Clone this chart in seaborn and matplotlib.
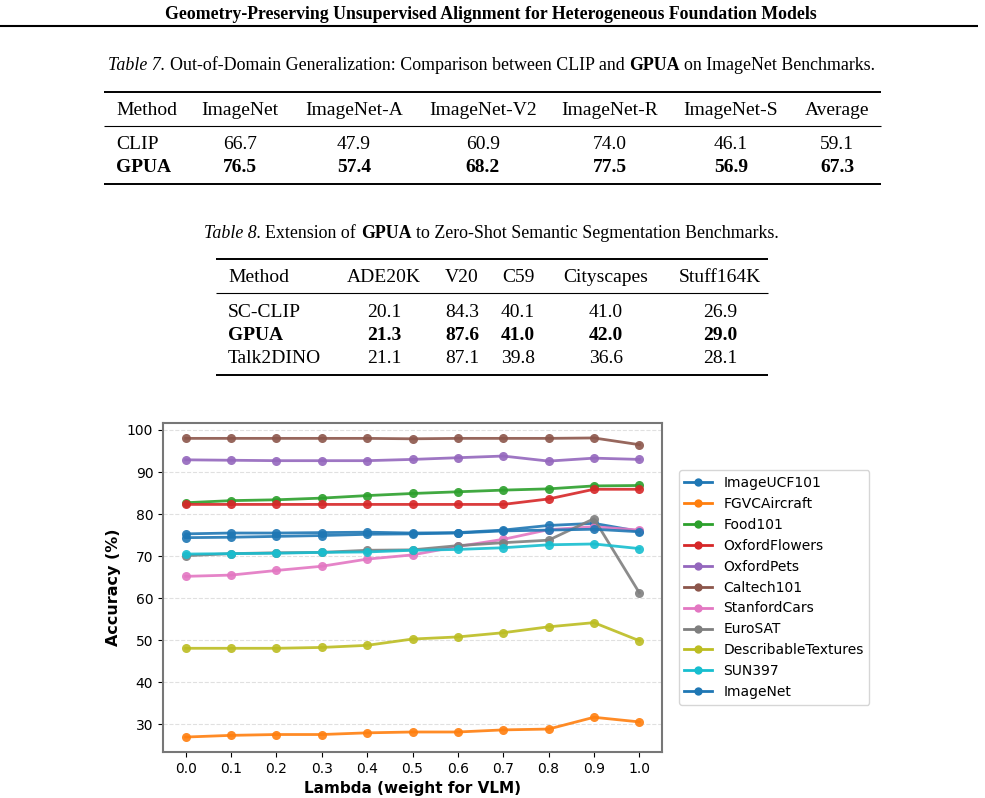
import pandas as pd
import matplotlib
matplotlib.use('Agg')
import matplotlib.pyplot as plt
import seaborn as sns
from matplotlib.lines import Line2D

# ---- chart data ----
lambdas = [0.0, 0.1, 0.2, 0.3, 0.4, 0.5, 0.6, 0.7, 0.8, 0.9, 1.0]
image_ucf101 = [75.3, 75.5, 75.5, 75.6, 75.7, 75.5, 75.6, 76.2, 77.3, 77.8, 75.9]
fgvc_aircraft = [27.0, 27.4, 27.6, 27.6, 28.0, 28.2, 28.2, 28.7, 28.9, 31.7, 30.6]
food101 = [82.7, 83.2, 83.4, 83.8, 84.4, 84.9, 85.3, 85.7, 86.0, 86.7, 86.8]
oxford_flowers = [82.3, 82.3, 82.3, 82.3, 82.3, 82.3, 82.3, 82.3, 83.6, 85.9, 85.9]
oxford_pets = [92.9, 92.8, 92.7, 92.7, 92.7, 93.0, 93.4, 93.8, 92.6, 93.3, 93.0]
caltech101 = [98.0, 98.0, 98.0, 98.0, 98.0, 97.9, 98.0, 98.0, 98.0, 98.1, 96.5]
stanford_cars = [65.2, 65.5, 66.6, 67.6, 69.3, 70.3, 72.3, 74.0, 76.3, 77.0, 76.2]
eurosat = [70.1, 70.6, 70.8, 70.9, 71.4, 71.5, 72.5, 73.2, 73.8, 78.9, 61.3]
describable_textures = [48.1, 48.1, 48.1, 48.3, 48.8, 50.3, 50.8, 51.8, 53.2, 54.2, 49.9]
sun397 = [70.5, 70.6, 70.7, 70.9, 71.0, 71.4, 71.6, 72.0, 72.7, 72.9, 71.8]
imagenet = [74.4, 74.5, 74.7, 74.9, 75.2, 75.3, 75.5, 76.0, 76.2, 76.4, 75.8]

dataset_names = ['ImageUCF101', 'FGVCAircraft', 'Food101', 'OxfordFlowers',
                 'OxfordPets', 'Caltech101', 'StanfordCars', 'EuroSAT',
                 'DescribableTextures', 'SUN397', 'ImageNet']
dataset_values = [image_ucf101, fgvc_aircraft, food101, oxford_flowers,
                  oxford_pets, caltech101, stanford_cars, eurosat,
                  describable_textures, sun397, imagenet]

# ---- table data ----
t7_header = ['Method', 'ImageNet', 'ImageNet-A', 'ImageNet-V2', 'ImageNet-R', 'ImageNet-S', 'Average']
t7_methods = ['CLIP', 'GPUA']
t7_values = [['66.7', '47.9', '60.9', '74.0', '46.1', '59.1'],
             ['76.5', '57.4', '68.2', '77.5', '56.9', '67.3']]
t7_bold = [False, True]

t8_header = ['Method', 'ADE20K', 'V20', 'C59', 'Cityscapes', 'Stuff164K']
t8_methods = ['SC-CLIP', 'GPUA', 'Talk2DINO']
t8_values = [['20.1', '84.3', '40.1', '41.0', '26.9'],
             ['21.3', '87.6', '41.0', '42.0', '29.0'],
             ['21.1', '87.1', '39.8', '36.6', '28.1']]
t8_bold = [False, True, False]

page_title = 'Geometry-Preserving Unsupervised Alignment for Heterogeneous Foundation Models'

W, H = 985, 798
SERIF = 'Liberation Serif'
fig = plt.figure(figsize=(W / 100, H / 100), dpi=100)
renderer = fig.canvas.get_renderer()


def fx(px):
    return px / W


def fy(py):
    return 1 - py / H


def rule(x0, x1, y, lw, color='black'):
    fig.add_artist(Line2D([fx(x0), fx(x1)], [fy(y), fy(y)], transform=fig.transFigure,
                          color=color, lw=lw, solid_capstyle='butt'))


def text_width(s, size, style='normal', weight='normal'):
    t = fig.text(0, 0, s, family=SERIF, size=size, style=style, weight=weight)
    w = t.get_window_extent(renderer).width
    t.remove()
    return w


def rich_line(pieces, cx, y, size):
    # pieces: (text, style, weight), joined by single spaces, centred on cx
    sp = text_width('a a', size) - text_width('aa', size)
    widths = [text_width(s, size, st, wt) for s, st, wt in pieces]
    x = cx - (sum(widths) + sp * (len(pieces) - 1)) / 2
    for (s, st, wt), w in zip(pieces, widths):
        fig.text(fx(x), fy(y), s, family=SERIF, size=size, style=st, weight=wt,
                 ha='left', va='baseline')
        x += w + sp


# ---- page header ----
fig.text(fx(491), fy(19), page_title, family=SERIF, size=12.8, weight='bold',
         ha='center', va='baseline')
rule(0, 978, 25.5, 1.5)

# ---- Table 7 ----
rich_line([('Table 7.', 'italic', 'normal'),
           ('Out-of-Domain Generalization: Comparison between CLIP and', 'normal', 'normal'),
           ('GPUA', 'normal', 'bold'),
           ('on ImageNet Benchmarks.', 'normal', 'normal')], 492, 70, 12.9)
t7_cols = [116, 240, 354, 483, 610, 731, 837]
rule(104, 881, 92, 1.4)
for i, h in enumerate(t7_header):
    fig.text(fx(t7_cols[i]), fy(115), h, family=SERIF, size=14,
             ha='left' if i == 0 else 'center', va='baseline')
rule(104, 881, 126, 0.8)
for r, (m, vals, b) in enumerate(zip(t7_methods, t7_values, t7_bold)):
    y = 149 + r * 23
    wt = 'bold' if b else 'normal'
    fig.text(fx(t7_cols[0]), fy(y), m, family=SERIF, size=14, weight=wt, ha='left', va='baseline')
    for c, v in enumerate(vals):
        fig.text(fx(t7_cols[c + 1]), fy(y), v, family=SERIF, size=14, weight=wt,
                 ha='center', va='baseline')
rule(104, 881, 184, 1.4)

# ---- Table 8 ----
rich_line([('Table 8.', 'italic', 'normal'),
           ('Extension of', 'normal', 'normal'),
           ('GPUA', 'normal', 'bold'),
           ('to Zero-Shot Semantic Segmentation Benchmarks.', 'normal', 'normal')], 491, 238, 12.9)
t8_cols = [228, 384, 462, 518, 606, 720]
rule(216, 768, 259, 1.4)
for i, h in enumerate(t8_header):
    fig.text(fx(t8_cols[i]), fy(282), h, family=SERIF, size=14,
             ha='left' if i == 0 else 'center', va='baseline')
rule(216, 768, 293, 0.8)
for r, (m, vals, b) in enumerate(zip(t8_methods, t8_values, t8_bold)):
    y = 317 + r * 23
    wt = 'bold' if b else 'normal'
    fig.text(fx(t8_cols[0]), fy(y), m, family=SERIF, size=14, weight=wt, ha='left', va='baseline')
    for c, v in enumerate(vals):
        fig.text(fx(t8_cols[c + 1]), fy(y), v, family=SERIF, size=14, weight=wt,
                 ha='center', va='baseline')
rule(216, 768, 375, 1.4)

# ---- line chart ----
rows = []
for name, vals in zip(dataset_names, dataset_values):
    for lam, v in zip(lambdas, vals):
        rows.append({'Lambda': lam, 'Accuracy': v, 'Dataset': name})
df = pd.DataFrame(rows)

tab10 = sns.color_palette('tab10', 10)
colors = [tab10[i % 10] for i in range(len(dataset_names))]

ax = fig.add_axes([fx(163), fy(752), fx(662) - fx(163), fy(423) - fy(752)])
sns.lineplot(data=df, x='Lambda', y='Accuracy', hue='Dataset', hue_order=dataset_names,
             palette=colors, marker='o', markersize=6.5, markeredgewidth=0,
             linewidth=2, alpha=0.9, ax=ax, legend=False)

ax.set_xticks(lambdas)
ax.set_xticklabels([f'{l:.1f}' for l in lambdas], fontsize=10)
ax.set_yticks([30, 40, 50, 60, 70, 80, 90, 100])
ax.tick_params(axis='y', labelsize=10)
ax.set_xlabel('Lambda (weight for VLM)', fontsize=11, fontweight='bold')
ax.set_ylabel('Accuracy (%)', fontsize=11.5, fontweight='bold')
ax.grid(axis='y', linestyle='--', color='#cccccc', alpha=0.6, linewidth=0.8)
ax.set_axisbelow(True)
for s in ax.spines.values():
    s.set_color('#777777')
    s.set_linewidth(1.5)

handles = [Line2D([], [], color=c, marker='o', markersize=6, linewidth=2, markeredgewidth=0)
           for c in colors]
ax.legend(handles, dataset_names, loc='center left', bbox_to_anchor=(1.02, 0.5),
          fontsize=10, frameon=True)

fig.savefig('out.png', dpi=100)
